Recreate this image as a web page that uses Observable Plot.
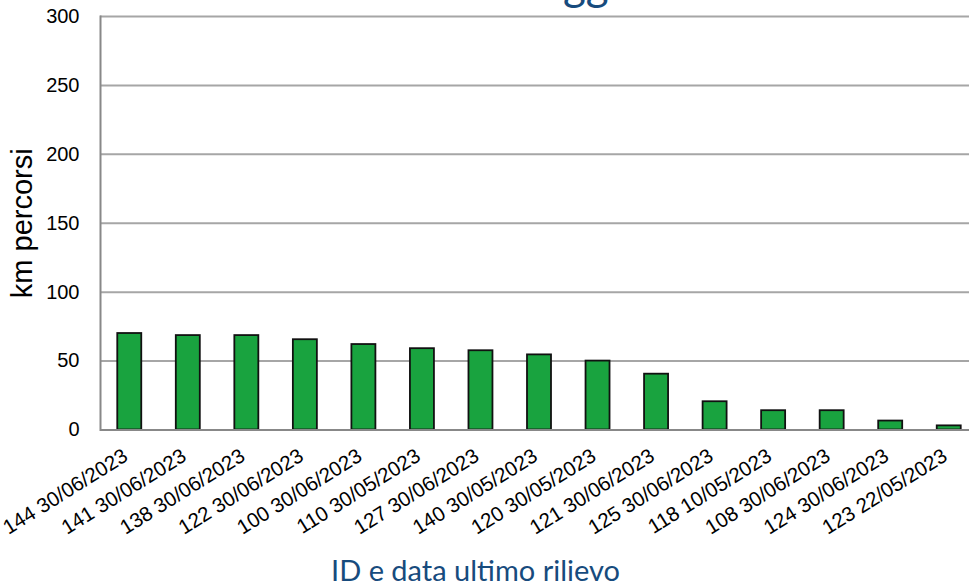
<!DOCTYPE html>
<html>
<head>
<meta charset="utf-8">
<script src="https://cdn.jsdelivr.net/npm/d3@7"></script>
<script src="https://cdn.jsdelivr.net/npm/@observablehq/plot@0.6"></script>
<style>
  html, body { margin: 0; padding: 0; background: #fff; overflow: hidden; }
  #wrap { position: relative; width: 969px; height: 586px; overflow: hidden; }
  #title { position: absolute; left: 0; top: 0; font-family: Lato, sans-serif; font-size: 44px; line-height: 1; color: #174b7d; white-space: nowrap; }
  #chart { position: absolute; left: 0; top: 0; }
  #chart svg { max-width: none !important; }
</style>
</head>
<body>
<div id="wrap">
  <div id="chart"></div>
  <div id="title"><span>Chilometra</span><span id="gg">gg</span><span>io</span></div>
</div>
<script>
const titleText = "Chilometraggio";
const categories = [
  "144 30/06/2023", "141 30/06/2023", "138 30/06/2023", "122 30/06/2023",
  "100 30/06/2023", "110 30/05/2023", "127 30/06/2023", "140 30/05/2023",
  "120 30/05/2023", "121 30/06/2023", "125 30/06/2023", "118 10/05/2023",
  "108 30/06/2023", "124 30/06/2023", "123 22/05/2023"
];
const kmValues = [70, 68.5, 68.5, 65.5, 62, 59, 57.5, 54.5, 50, 40.5, 20.5, 14, 14, 6.5, 3];
const yTicks = [0, 50, 100, 150, 200, 250, 300];
const yLabel = "km percorsi";
const xLabel = "ID e data ultimo rilievo";

const data = categories.map((c, i) => ({id: c, km: kmValues[i]}));

const chart = Plot.plot({
  width: 978,
  height: 586,
  marginLeft: 100,
  marginRight: 0,
  marginTop: 16,
  marginBottom: 156.5,
  style: {fontFamily: "'Liberation Sans', Arial, sans-serif", background: "transparent", color: "#000"},
  x: {domain: categories, paddingInner: 0.59, paddingOuter: 0.295, align: 0.5, round: false},
  y: {domain: [0, 300]},
  marks: [
    Plot.gridY(yTicks, {stroke: "#a6a6a6", strokeWidth: 2, strokeOpacity: 1}),
    Plot.frame({anchor: "left", stroke: "#888", strokeWidth: 2}),
    Plot.barY(data, {x: "id", y: "km", fill: "#19a33f", stroke: "#111", strokeWidth: 1.8}),
    Plot.ruleY([0], {stroke: "#888", strokeWidth: 2}),
    Plot.axisY(yTicks, {tickSize: 0, tickPadding: 21, fontSize: 20, label: null}),
    Plot.axisX({tickSize: 0, tickPadding: 24, tickRotate: -32, fontSize: 20.5, dx: -4, label: null}),
    Plot.text([yLabel], {frameAnchor: "left", textAnchor: "middle", dx: -78, rotate: -90, fontSize: 29, fill: "#000"}),
    Plot.text([xLabel], {frameAnchor: "bottom", dx: -64, dy: 150.5, lineAnchor: "bottom", fontSize: 29, fill: "#174b7d", fontFamily: "Lato, sans-serif"})
  ]
});
document.getElementById("chart").appendChild(chart);

// position the cut-off title so that the "gg" descenders show at the top edge
const t = document.getElementById("title");
const gg = document.getElementById("gg").getBoundingClientRect();
const tr = t.getBoundingClientRect();
t.style.left = (563 - (gg.left - tr.left)) + "px";
t.style.top = (8.5 - (gg.bottom - tr.top)) + "px";
</script>
</body>
</html>
